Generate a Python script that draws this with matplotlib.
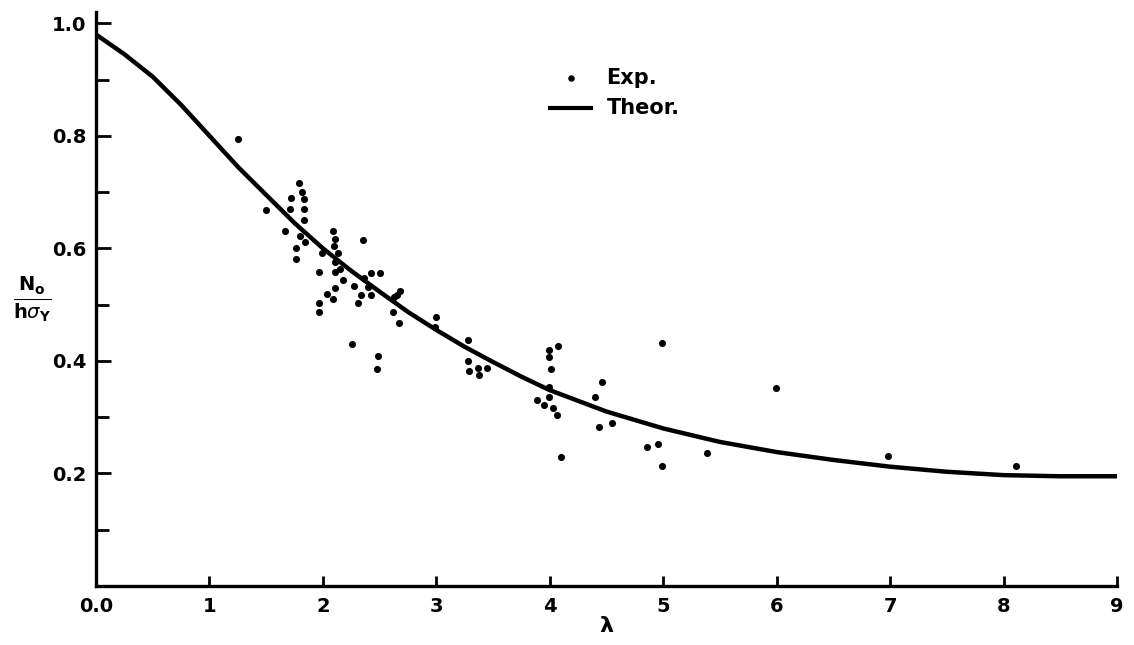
import numpy as np
import matplotlib
matplotlib.use("Agg")
import matplotlib.pyplot as plt
from matplotlib.ticker import MultipleLocator, FixedLocator

# theoretical curve
theor_x = [0.0, 0.25, 0.5, 0.75, 1.0, 1.25, 1.5, 1.75, 2.0, 2.25, 2.5, 2.75, 3.0, 3.25, 3.5,
           3.75, 4.0, 4.5, 5.0, 5.5, 6.0, 6.5, 7.0, 7.5, 8.0, 8.5, 9.0]
theor_y = [0.98, 0.945, 0.905, 0.855, 0.80, 0.745, 0.695, 0.645, 0.60, 0.56, 0.523, 0.487, 0.455,
           0.425, 0.398, 0.372, 0.348, 0.31, 0.28, 0.256, 0.238, 0.224, 0.212, 0.203, 0.197, 0.195, 0.195]

# experimental points
exp_x = [1.25, 1.79, 1.82, 1.83, 1.83, 1.83, 1.72, 1.71, 1.50, 1.67, 1.80, 1.84, 1.76, 1.76,
         2.09, 2.11, 2.10, 1.99, 2.13, 2.35, 2.11, 2.11, 2.15, 1.97, 2.18, 2.11, 2.04, 2.09,
         1.97, 1.97, 2.27, 2.36, 2.42, 2.50, 2.40, 2.34, 2.42, 2.31, 2.68, 2.65, 2.63, 2.62,
         2.67, 2.26, 2.49, 2.48, 3.00, 2.99, 3.28, 3.28, 3.29, 3.37, 3.38, 3.45,
         3.99, 3.99, 4.07, 4.01, 3.99, 3.99, 3.89, 3.95, 4.03, 4.06, 4.10,
         4.46, 4.40, 4.43, 4.55, 4.99, 4.86, 4.95, 4.99, 5.39, 5.99, 6.98, 8.11]
exp_y = [0.794, 0.716, 0.700, 0.687, 0.670, 0.650, 0.689, 0.670, 0.668, 0.631, 0.622, 0.611, 0.600, 0.581,
         0.631, 0.616, 0.604, 0.591, 0.591, 0.615, 0.576, 0.558, 0.563, 0.558, 0.544, 0.529, 0.519, 0.510,
         0.503, 0.487, 0.533, 0.547, 0.556, 0.556, 0.531, 0.517, 0.517, 0.503, 0.524, 0.517, 0.513, 0.487,
         0.467, 0.430, 0.409, 0.385, 0.478, 0.460, 0.437, 0.400, 0.382, 0.387, 0.375, 0.387,
         0.419, 0.407, 0.426, 0.385, 0.353, 0.335, 0.330, 0.321, 0.316, 0.304, 0.229,
         0.362, 0.335, 0.282, 0.290, 0.432, 0.247, 0.252, 0.213, 0.236, 0.352, 0.231, 0.213]

x_ticks = [0, 1, 2, 3, 4, 5, 6, 7, 8, 9]
x_labels = ["0.0", "1", "2", "3", "4", "5", "6", "7", "8", "9"]
y_ticks = [0.2, 0.4, 0.6, 0.8, 1.0]
y_labels = ["0.2", "0.4", "0.6", "0.8", "1.0"]

plt.rcParams['font.family'] = ['DejaVu Sans']
plt.rcParams['mathtext.fontset'] = 'dejavusans'

fig = plt.figure(figsize=(11.34, 6.45), dpi=100)
ax = fig.add_axes([96 / 1134, 1 - 586 / 645, 1021 / 1134, 574 / 645])

ax.plot(theor_x, theor_y, color='black', lw=3.2, solid_capstyle='round', solid_joinstyle='round')
ax.scatter(exp_x, exp_y, s=26, color='black', zorder=3, linewidths=0)

ax.set_xlim(0, 9)
ax.set_ylim(0, 1.02)

ax.spines['top'].set_visible(False)
ax.spines['right'].set_visible(False)
for s in ('left', 'bottom'):
    ax.spines[s].set_linewidth(2.4)

ax.xaxis.set_major_locator(FixedLocator(x_ticks))
ax.set_xticklabels(x_labels, fontsize=14, fontweight='bold')
ax.yaxis.set_major_locator(FixedLocator(y_ticks))
ax.set_yticklabels(y_labels, fontsize=14, fontweight='bold')
ax.yaxis.set_minor_locator(MultipleLocator(0.1))

ax.tick_params(axis='x', direction='in', length=7, width=2, pad=8)
ax.tick_params(axis='y', which='major', direction='in', length=11, width=2, pad=7)
ax.tick_params(axis='y', which='minor', direction='in', length=9, width=2)

ax.set_xlabel(r'$\mathbf{\lambda}$', fontsize=16, labelpad=0)
ax.text(-0.062, 0.50, r'$\frac{\mathbf{N_o}}{\mathbf{h}\sigma_\mathbf{Y}}$', transform=ax.transAxes,
        fontsize=20, ha='center', va='center')

# legend drawn by hand like the original
ax.scatter([4.19], [0.903], s=22, color='black', linewidths=0)
ax.text(4.50, 0.903, "Exp.", fontsize=15, fontweight='bold', va='center')
ax.plot([4.0, 4.36], [0.850, 0.850], color='black', lw=3)
ax.text(4.50, 0.850, "Theor.", fontsize=15, fontweight='bold', va='center')

fig.savefig("out.png", dpi=100)
